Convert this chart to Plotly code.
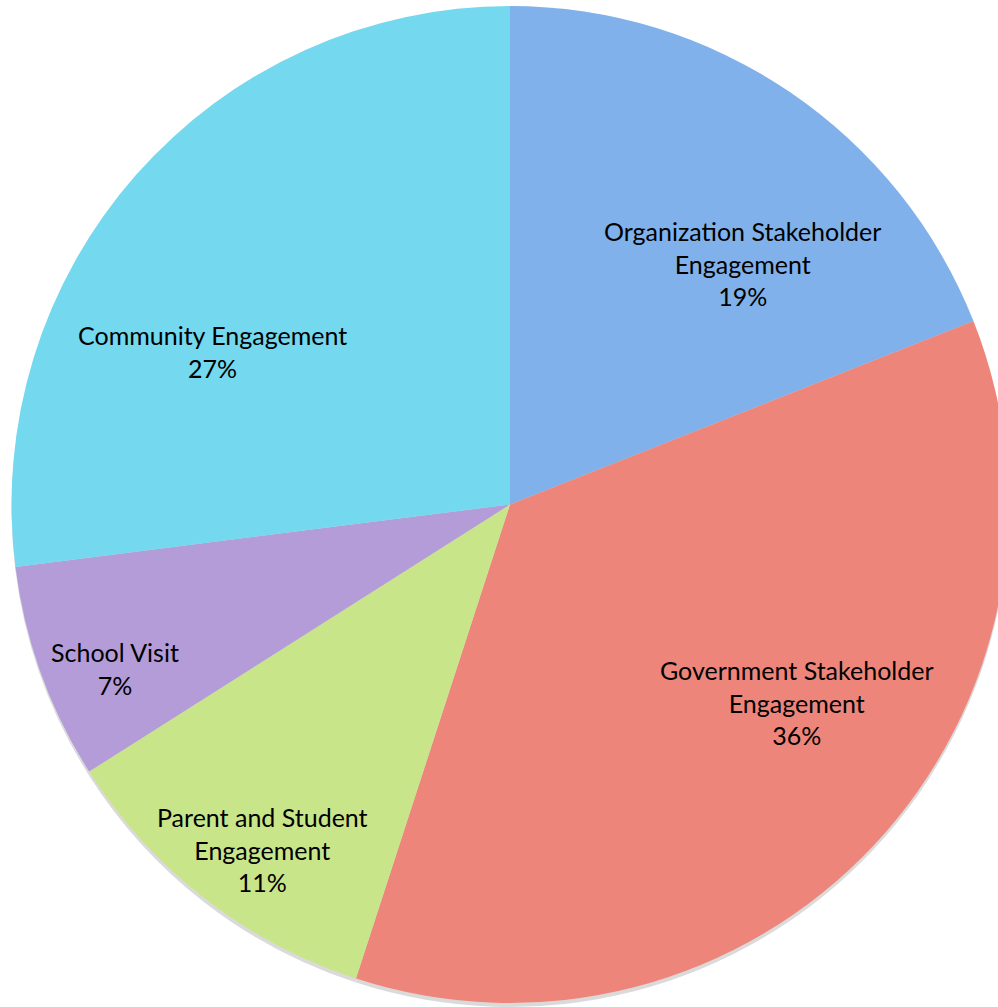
import plotly.graph_objects as go

# Share of engagement activities
categories = [
    "Organization Stakeholder<br>Engagement",
    "Government Stakeholder<br>Engagement",
    "Parent and Student<br>Engagement",
    "School Visit",
    "Community Engagement",
]
shares = [19, 36, 11, 7, 27]
slice_colors = ["#80B1EA", "#EE857A", "#C9E58A", "#B39CD7", "#74D8EE"]

# Where each slice label sits (paper fractions)
label_x = [0.7275, 0.7814, 0.2569, 0.1127, 0.2088]
label_y = [0.7388, 0.3019, 0.1569, 0.3366, 0.6505]

fig = go.Figure()

# soft drop shadow under the pie
fig.add_trace(
    go.Pie(
        labels=categories,
        values=shares,
        sort=False,
        direction="clockwise",
        rotation=0,
        marker=dict(colors=["#BDBDBD"] * len(shares), line=dict(width=0)),
        opacity=0.55,
        textinfo="none",
        hoverinfo="skip",
        domain=dict(x=[0, 1], y=[0.0, 0.99]),
        showlegend=False,
    )
)

fig.add_trace(
    go.Pie(
        labels=categories,
        values=shares,
        sort=False,
        direction="clockwise",
        rotation=0,
        marker=dict(colors=slice_colors, line=dict(width=0)),
        textinfo="none",
        hoverinfo="label+percent",
        domain=dict(x=[0, 1], y=[0.004, 0.994]),
        showlegend=False,
    )
)

for name, share, lx, ly in zip(categories, shares, label_x, label_y):
    fig.add_annotation(
        x=lx, y=ly, xref="paper", yref="paper",
        text=f"{name}<br>{share}%",
        showarrow=False,
        align="center",
        xanchor="center", yanchor="middle",
        font=dict(family="Lato, Carlito, sans-serif", size=25, color="#000000"),
    )

fig.update_layout(
    width=1020,
    height=1007,
    margin=dict(l=0, r=0, t=0, b=0),
    paper_bgcolor="#FFFFFF",
)

fig.write_html("out.html", post_script="document.body.style.overflow='hidden';")
